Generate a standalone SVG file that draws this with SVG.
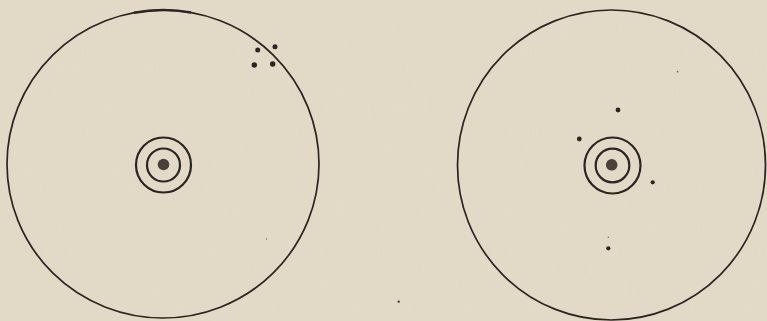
<svg xmlns="http://www.w3.org/2000/svg" width="767" height="321" viewBox="0 0 767 321">
  <defs>
    <filter id="paper" x="0" y="0" width="100%" height="100%">
      <feTurbulence type="fractalNoise" baseFrequency="0.9 0.05" numOctaves="2" seed="3" result="n"/>
      <feColorMatrix type="matrix" values="0 0 0 0 0.85  0 0 0 0 0.8  0 0 0 0 0.7  0 0 0 0.15 0" />
    </filter>
    <style>
      .ln { fill: none; stroke: #2b2521; stroke-width: 1.7; }
      .ring { fill: none; stroke: #2b2521; stroke-width: 2.2; }
      .dot { fill: #2b2521; }
      .core { fill: #4a413b; }
    </style>
  </defs>
  <rect width="767" height="321" fill="#e2d8c6"/>
  <rect width="767" height="321" filter="url(#paper)"/>

  <g id="left-disc">
    <ellipse class="ln" cx="163" cy="164" rx="156" ry="154"/>
    <path d="M134 12.7 Q163 7.4 191 12.5" fill="none" stroke="#2b2521" stroke-width="2.6"/>
    <circle class="ring" cx="163.5" cy="165" r="27.5"/>
    <circle class="ring" cx="163.5" cy="165" r="16.5"/>
    <circle class="core" cx="163.5" cy="164.5" r="5.8"/>
    <circle class="dot" cx="257.7" cy="50" r="2.5"/>
    <circle class="dot" cx="275" cy="46.7" r="2.5"/>
    <circle class="dot" cx="254.3" cy="65" r="2.7"/>
    <circle class="dot" cx="272.7" cy="64" r="2.7"/>
    <circle class="dot" cx="266.6" cy="239" r="0.8" opacity="0.5"/>
  </g>

  <g id="right-disc">
    <ellipse class="ln" cx="611.5" cy="165" rx="154" ry="155"/>
    <circle class="ring" cx="612.5" cy="165.5" r="28"/>
    <circle class="ring" cx="612.5" cy="165.5" r="16.8"/>
    <circle class="core" cx="611.7" cy="164.8" r="5.8"/>
    <circle class="dot" cx="618" cy="110" r="2.4"/>
    <circle class="dot" cx="579.3" cy="139" r="2.4"/>
    <circle class="dot" cx="652.7" cy="182.3" r="2.1"/>
    <circle class="dot" cx="608.3" cy="248.3" r="2.1"/>
    <circle class="dot" cx="608.3" cy="237.3" r="0.8" opacity="0.6"/>
    <circle class="dot" cx="677.6" cy="71.7" r="0.9" opacity="0.6"/>
  </g>

  <circle class="dot" cx="398.7" cy="301.7" r="1.1"/>
</svg>
